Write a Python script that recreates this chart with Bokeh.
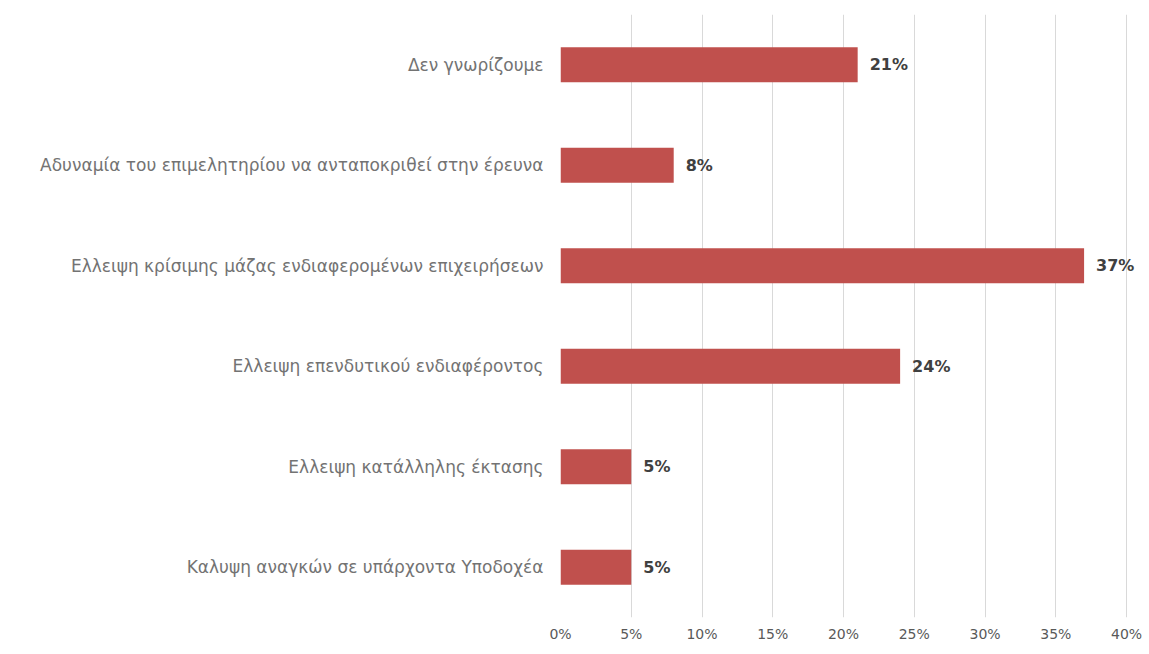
from bokeh.plotting import figure
from bokeh.models import ColumnDataSource, FixedTicker, FactorRange, Range1d
from bokeh.embed import file_html
from bokeh.resources import INLINE
from bokeh.core.properties import value

categories = [
    "Δεν γνωρίζουμε",
    "Αδυναμία του επιμελητηρίου να ανταποκριθεί στην έρευνα",
    "Ελλειψη κρίσιμης μάζας ενδιαφερομένων επιχειρήσεων",
    "Ελλειψη επενδυτικού ενδιαφέροντος",
    "Ελλειψη κατάλληλης έκτασης",
    "Καλυψη αναγκών σε υπάρχοντα Υποδοχέα",
]
values = [21, 8, 37, 24, 5, 5]
value_labels = ["21%", "8%", "37%", "24%", "5%", "5%"]
x_ticks = [0, 5, 10, 15, 20, 25, 30, 35, 40]
x_tick_labels = ["0%", "5%", "10%", "15%", "20%", "25%", "30%", "35%", "40%"]

FONT = "DejaVu Sans"

src = ColumnDataSource(dict(cat=categories, val=values, lab=value_labels))

p = figure(
    width=1149, height=646,
    y_range=FactorRange(factors=list(reversed(categories))),
    x_range=Range1d(0, 41.34),
    output_backend="svg", toolbar_location=None,
    min_border_left=560, min_border_right=4,
    min_border_top=14, min_border_bottom=29,
)
p.outline_line_color = None
p.background_fill_color = "white"
p.border_fill_color = "white"

p.hbar(y="cat", right="val", left=0, height=0.35, source=src,
       fill_color="#C0504D", line_color=None)

p.text(x="val", y="cat", text="lab", source=src, x_offset=12,
       text_font=value(FONT), text_font_size="16px", text_font_style="bold",
       text_color="#404040", text_baseline="middle", text_align="left")

p.xaxis.ticker = FixedTicker(ticks=x_ticks)
p.xaxis.major_label_overrides = {t: l for t, l in zip(x_ticks, x_tick_labels)}
p.xaxis.axis_line_color = None
p.xaxis.major_tick_line_color = None
p.xaxis.minor_tick_line_color = None
p.xaxis.major_label_text_font = FONT
p.xaxis.major_label_text_font_size = "14px"
p.xaxis.major_label_text_color = "#595959"
p.xaxis.major_label_standoff = 2

p.yaxis.axis_line_color = None
p.yaxis.major_tick_line_color = None
p.yaxis.minor_tick_line_color = None
p.yaxis.major_label_text_font = FONT
p.yaxis.major_label_text_font_size = "17px"
p.yaxis.major_label_text_color = "#737373"
p.yaxis.major_label_standoff = 11

p.xgrid.grid_line_color = "#d9d9d9"
p.xgrid.ticker = FixedTicker(ticks=x_ticks)
p.ygrid.grid_line_color = None

open("out.html", "w").write(file_html(p, INLINE))
